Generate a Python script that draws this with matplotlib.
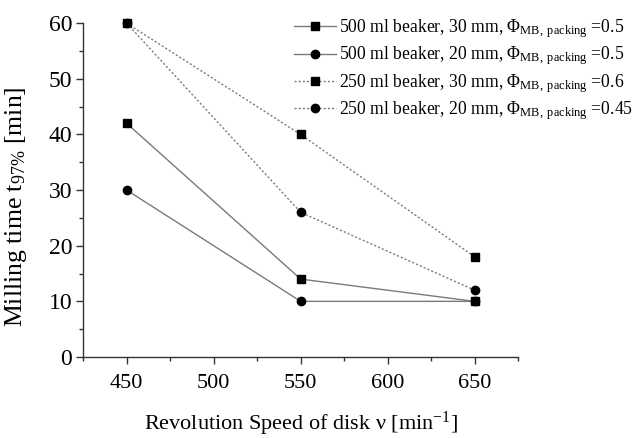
import matplotlib
matplotlib.use("Agg")
import matplotlib.pyplot as plt
from matplotlib.ticker import MultipleLocator

plt.rcParams['font.family'] = ['Liberation Serif', 'DejaVu Serif']
plt.rcParams['mathtext.fontset'] = 'custom'
plt.rcParams['mathtext.rm'] = 'Liberation Serif'
plt.rcParams['mathtext.it'] = 'Liberation Serif:italic'

speed = [450, 550, 650]
t_500_30 = [42, 14, 10]
t_500_20 = [30, 10, 10]
t_250_30 = [60, 40, 18]
t_250_20 = [60, 26, 12]

labels = [
    r"500 ml beaker, 30 mm, $\Phi_{\mathrm{MB,\ packing}}$ =0.5",
    r"500 ml beaker, 20 mm, $\Phi_{\mathrm{MB,\ packing}}$ =0.5",
    r"250 ml beaker, 30 mm, $\Phi_{\mathrm{MB,\ packing}}$ =0.6",
    r"250 ml beaker, 20 mm, $\Phi_{\mathrm{MB,\ packing}}$ =0.45",
]

fig = plt.figure(figsize=(6.35, 4.38), dpi=100)
ax = fig.add_axes([0.131, 0.185, 0.685, 0.762])

line_col = "#7a7a7a"
dots = (0, (1.5, 1.5))
ax.plot(speed, t_500_30, color=line_col, lw=1.0, ls="-", marker="s", ms=5.5,
        mfc="black", mec="black", label=labels[0], clip_on=False)
ax.plot(speed, t_500_20, color=line_col, lw=1.0, ls="-", marker="o", ms=6,
        mfc="black", mec="black", label=labels[1], clip_on=False)
ax.plot(speed, t_250_30, color=line_col, lw=1.0, ls=dots, marker="s", ms=5.5,
        mfc="black", mec="black", label=labels[2], clip_on=False)
ax.plot(speed, t_250_20, color=line_col, lw=1.0, ls=dots, marker="o", ms=6,
        mfc="black", mec="black", label=labels[3], clip_on=False)

ax.set_xlim(425, 675)
ax.set_ylim(0, 60)
ax.xaxis.set_major_locator(MultipleLocator(50))
ax.xaxis.set_minor_locator(MultipleLocator(25))
ax.yaxis.set_major_locator(MultipleLocator(10))
ax.yaxis.set_minor_locator(MultipleLocator(5))

ax.spines['top'].set_visible(False)
ax.spines['right'].set_visible(False)
for s in ('left', 'bottom'):
    ax.spines[s].set_color("#333333")
    ax.spines[s].set_linewidth(1.0)
ax.tick_params(which='major', direction='out', length=5, width=1, colors="#333333")
ax.tick_params(which='minor', direction='out', length=3, width=1, colors="#333333")
ax.tick_params(axis='x', which='major', labelsize=16, pad=7)
ax.tick_params(axis='y', which='major', labelsize=17, pad=3)
for lab in ax.get_xticklabels() + ax.get_yticklabels():
    lab.set_color("black")

ax.set_xlabel(r"Revolution Speed of disk ν [min$^{\mathrm{-1}}$]", fontsize=16, labelpad=12)
ax.set_ylabel(r"Milling time t$_{\mathrm{97\%}}$ [min]", fontsize=18.5)
ax.yaxis.set_label_coords(-0.125, 0.45)

leg = ax.legend(loc="upper right", bbox_to_anchor=(1.30, 1.065), frameon=False,
                fontsize=12.7, handlelength=2.4, handletextpad=0.15, labelspacing=0.24)

fig.savefig("out.png", dpi=100)
